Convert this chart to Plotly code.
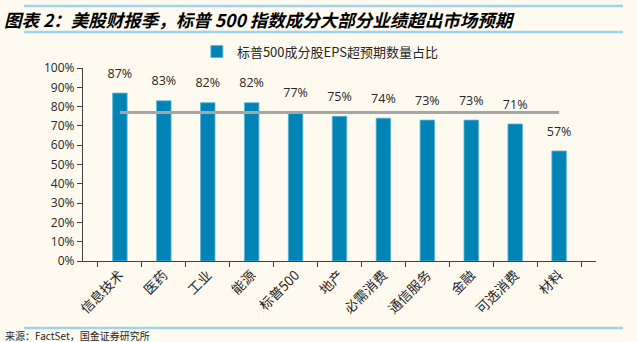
import plotly.graph_objects as go

categories = ["信息技术", "医药", "工业", "能源", "标普500", "地产", "必需消费", "通信服务", "金融", "可选消费", "材料"]
values = [87, 83, 82, 82, 77, 75, 74, 73, 73, 71, 57]
benchmark_label = "标普500"
y_ticks = [0, 10, 20, 30, 40, 50, 60, 70, 80, 90, 100]
y_tick_text = [f"{v}%" for v in y_ticks]
series_name = "标普500成分股EPS超预期数量占比"
title_text = "图表 2：美股财报季，标普 500 指数成分大部分业绩超出市场预期"
source_text = "来源：FactSet，国金证券研究所"

bench_value = values[categories.index(benchmark_label)]
bench = [bench_value] * len(categories)

BG = "#FEFAF0"
fig = go.Figure()
fig.add_trace(go.Bar(
    x=categories, y=values, name=series_name,
    marker=dict(color="#0084B5", line=dict(color="#5FB3D6", width=0.8)),
))
fig.add_trace(go.Scatter(
    x=categories, y=bench, mode="lines", showlegend=False,
    line=dict(color="#A6A6A6", width=3), hoverinfo="skip",
))
fig.add_trace(go.Scatter(
    x=categories, y=values, mode="markers+text", showlegend=False,
    marker=dict(size=18, color="rgba(0,0,0,0)"),
    text=[f"{v}%" for v in values], textposition="top center",
    textfont=dict(family="Open Sans, Liberation Sans, sans-serif", size=12.5, color="#262626"),
    cliponaxis=False, hoverinfo="skip",
))

fig.update_layout(
    width=637, height=342,
    margin=dict(l=83, r=41, t=68, b=81),
    paper_bgcolor=BG, plot_bgcolor=BG,
    bargap=0.67,
    showlegend=True,
    legend=dict(orientation="h", x=0.222, xanchor="left", y=1.085, yanchor="middle",
                font=dict(family="Noto Sans CJK SC, Open Sans, sans-serif", size=13, color="#262626"),
                bgcolor="rgba(0,0,0,0)", itemwidth=30),
    xaxis=dict(
        type="category", tickangle=-45, tickson="boundaries",
        showline=True, linecolor="#404040", linewidth=1.2,
        ticks="outside", ticklen=5, tickcolor="#404040",
        tickfont=dict(family="Noto Sans CJK SC, sans-serif", size=13.5, color="#262626"),
        showgrid=False, zeroline=False,
    ),
    yaxis=dict(
        range=[0, 100], tickvals=y_ticks, ticktext=y_tick_text,
        showline=True, linecolor="#404040", linewidth=1.2,
        ticks="outside", ticklen=5, tickcolor="#404040",
        tickfont=dict(family="Open Sans, Liberation Sans, sans-serif", size=12, color="#262626"),
        showgrid=False, zeroline=False,
    ),
)

# title & decorative rules
fig.add_annotation(text=f"<b><i>{title_text}</i></b>", xref="paper", yref="paper",
                   x=-83/513 + 2/513, xanchor="left", y=1 + (68-19)/193, yanchor="middle",
                   showarrow=False,
                   font=dict(family="Noto Sans CJK SC, sans-serif", size=17.5, color="#000000"))
fig.add_annotation(text=source_text, xref="paper", yref="paper",
                   x=-83/513 + 3/513, xanchor="left", y=-(335-261)/193, yanchor="middle",
                   showarrow=False,
                   font=dict(family="Noto Sans CJK SC, sans-serif", size=10, color="#262626"))
for ypix in [6, 32, 328]:
    yp = (261 - ypix) / 193
    fig.add_shape(type="line", xref="paper", yref="paper",
                  x0=(24-83)/513, x1=(623-83)/513, y0=yp, y1=yp,
                  line=dict(color="#9DD4EC", width=2.5))

fig.write_html("out.html")
